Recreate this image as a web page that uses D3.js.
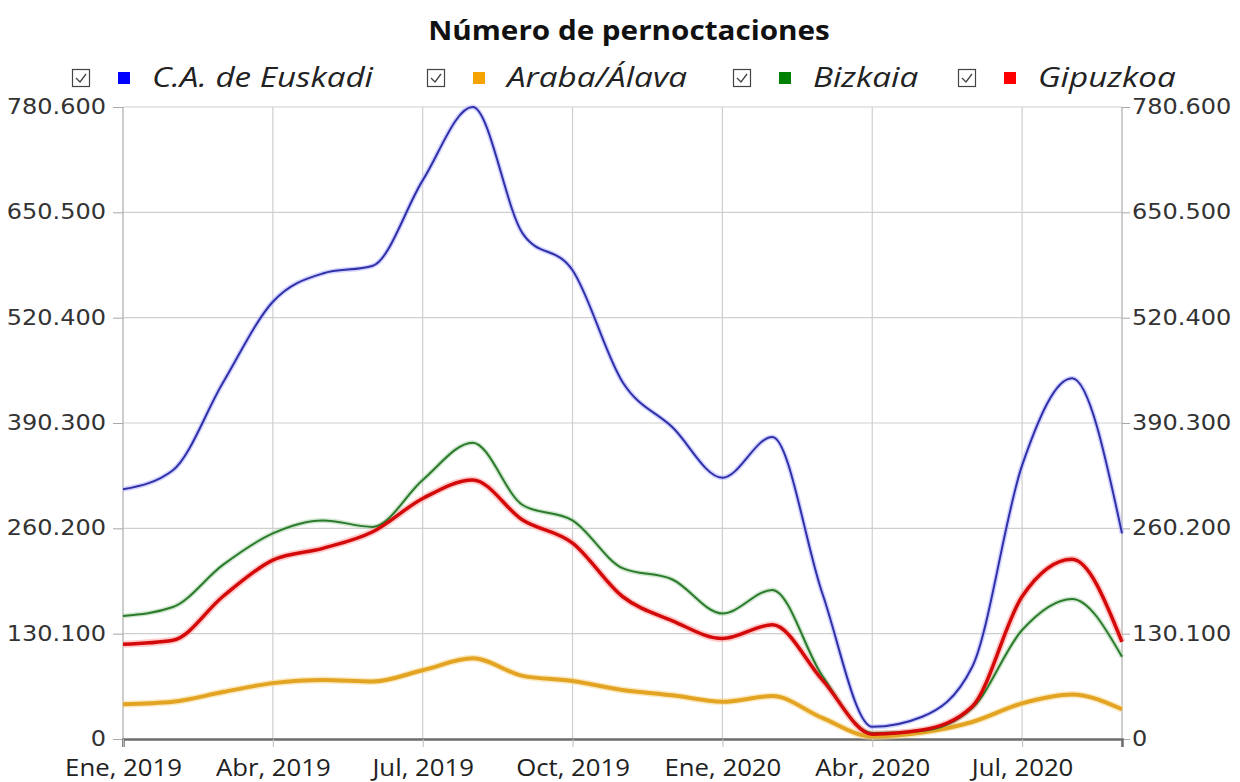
<!DOCTYPE html>
<html>
<head>
<meta charset="utf-8">
<script src="https://cdn.jsdelivr.net/npm/d3@7/dist/d3.min.js"></script>
<style>
  html, body { margin: 0; padding: 0; background: #fff; }
  svg { display: block; }
</style>
</head>
<body>
<svg id="chart" width="1240" height="782"></svg>
<script>
// ---- data ----
const months = ["2019-01","2019-02","2019-03","2019-04","2019-05","2019-06","2019-07","2019-08","2019-09","2019-10","2019-11","2019-12",
                "2020-01","2020-02","2020-03","2020-04","2020-05","2020-06","2020-07","2020-08","2020-09"];
const euskadi  = [308400, 332000, 440000, 540000, 575000, 584500, 690000, 780600, 624500, 579000, 441000, 385000, 322700, 373000, 180000, 15000, 27500, 89000, 338000, 445500, 254000];
const araba    = [43000, 46000, 58000, 69000, 73000, 71000, 85000, 99600, 78000, 71600, 60500, 54000, 46000, 53000, 26000, 3000, 8000, 21000, 44000, 55000, 36700];
const bizkaia  = [152000, 163000, 215000, 254000, 270000, 262000, 320000, 366000, 289000, 270000, 211000, 197000, 155000, 184000, 78000, 7500, 10000, 38000, 134600, 173000, 101600];
const gipuzkoa = [117000, 122000, 176000, 221000, 235500, 256000, 297000, 320000, 270500, 242000, 176000, 146000, 124000, 141000, 73000, 6000, 11000, 40000, 176000, 222000, 120000];
const seriesNames = ["C.A. de Euskadi", "Araba/Álava", "Bizkaia", "Gipuzkoa"];
const xTickMonths = ["2019-01","2019-04","2019-07","2019-10","2020-01","2020-04","2020-07"];
const xTickLabels = ["Ene, 2019","Abr, 2019","Jul, 2019","Oct, 2019","Ene, 2020","Abr, 2020","Jul, 2020"];
const yTicks = [0, 130100, 260200, 390300, 520400, 650500, 780600];
const titleText = "Número de pernoctaciones";

// ---- styles ----
const styles = [
  {data: euskadi,  legend: "#0000ff", stroke: "#3030a8", halo: "#aeb0ff", w: 2,   hw: 5},
  {data: araba,    legend: "#f4a300", stroke: "#e3a424", halo: "#f7d98e", w: 4,   hw: 7},
  {data: bizkaia,  legend: "#008000", stroke: "#2c7a2c", halo: "#a9d4a9", w: 2,   hw: 5},
  {data: gipuzkoa, legend: "#ff0000", stroke: "#d40a0a", halo: "#ffa0a0", w: 3.5, hw: 7}
];

// widen a text horizontally (the reference text is stretched)
function stretch(sel, f) {
  sel.each(function() {
    const len = this.getComputedTextLength();
    d3.select(this).attr("textLength", len * f).attr("lengthAdjust", "spacingAndGlyphs");
  });
}

const svg = d3.select("#chart");
const L = 123, R = 1122, T = 107, B = 739;
const x = d3.scalePoint().domain(months).range([L, R]);
const y = d3.scaleLinear().domain([0, 780600]).range([B, T]);
const loc = d3.formatLocale({decimal: ",", thousands: ".", grouping: [3], currency: ["", "€"]});
const fmt = loc.format(",d");

// grid
svg.append("g").selectAll("line").data(yTicks.slice(1)).join("line")
  .attr("x1", L).attr("x2", R).attr("y1", d => y(d)).attr("y2", d => y(d))
  .attr("stroke", "#cfcfcf").attr("stroke-width", 1.2);
svg.append("g").selectAll("line").data(xTickMonths.slice(1)).join("line")
  .attr("x1", d => x(d)).attr("x2", d => x(d)).attr("y1", T).attr("y2", B)
  .attr("stroke", "#cfcfcf").attr("stroke-width", 1.2);

// axes
const axisFont = "'DejaVu Sans', Verdana, sans-serif";
const yl = svg.append("g").attr("transform", `translate(${L},0)`)
  .call(d3.axisLeft(y).tickValues(yTicks).tickFormat(fmt).tickSize(10).tickPadding(7));
const yr = svg.append("g").attr("transform", `translate(${R},0)`)
  .call(d3.axisRight(y).tickValues(yTicks).tickFormat(fmt).tickSize(8).tickPadding(2));
const xb = svg.append("g").attr("transform", `translate(0,${B})`)
  .call(d3.axisBottom(x).tickValues(xTickMonths).tickFormat((d, i) => xTickLabels[i]).tickSize(8).tickPadding(13));

[yl, yr].forEach(g => {
  g.select(".domain").attr("stroke", "#bdbdbd").attr("stroke-width", 1.5).attr("d", `M0,${T}V${B + 8}`);
  g.selectAll(".tick line").attr("stroke", "#a8a8a8");
  g.selectAll(".tick text").attr("font-family", axisFont).attr("font-size", 20.5).attr("fill", "#333");
  stretch(g.selectAll(".tick text"), 1.17);
});
xb.select(".domain").attr("stroke", "#6e6e6e").attr("stroke-width", 2.5);
xb.selectAll(".tick line").attr("stroke", "#bdbdbd");
xb.selectAll(".tick text").attr("font-family", "'Open Sans', sans-serif").attr("font-size", 23).attr("fill", "#222");
stretch(xb.selectAll(".tick text"), 1.12);

// lines
const line = d3.line().x((d, i) => x(months[i])).y(d => y(d)).curve(d3.curveMonotoneX);
const lines = svg.append("g");
styles.forEach(s => {
  lines.append("path").attr("d", line(s.data)).attr("fill", "none")
    .attr("stroke", s.halo).attr("stroke-width", s.hw).attr("stroke-opacity", 0.55).attr("stroke-linejoin", "round");
});
styles.forEach(s => {
  lines.append("path").attr("d", line(s.data)).attr("fill", "none")
    .attr("stroke", s.stroke).attr("stroke-width", s.w).attr("stroke-linejoin", "round");
});

// title
const title = svg.append("text").attr("x", 629).attr("y", 40).attr("text-anchor", "middle")
  .attr("font-family", "'Open Sans', sans-serif").attr("font-weight", 700).attr("font-size", 26)
  .attr("fill", "#111").text(titleText);
stretch(title, 1.14);

// legend
const legendX = [72, 427, 733, 958];
const lg = svg.append("g");
seriesNames.forEach((name, i) => {
  const g = lg.append("g").attr("transform", `translate(${legendX[i]},0)`);
  g.append("rect").attr("x", 0.5).attr("y", 69.5).attr("width", 17).attr("height", 17)
    .attr("fill", "#fff").attr("stroke", "#444").attr("stroke-width", 1.2);
  g.append("path").attr("d", "M4,78 L8,82 L14,74").attr("fill", "none").attr("stroke", "#444").attr("stroke-width", 1.3);
  g.append("rect").attr("x", 46).attr("y", 72).attr("width", 12).attr("height", 12).attr("fill", styles[i].legend);
  const t = g.append("text").attr("x", 80).attr("y", 87)
    .attr("font-family", "'Open Sans', sans-serif").attr("font-style", "italic").attr("font-size", 27)
    .attr("fill", "#222").text(name);
  stretch(t, 1.23);
});
</script>
</body>
</html>
